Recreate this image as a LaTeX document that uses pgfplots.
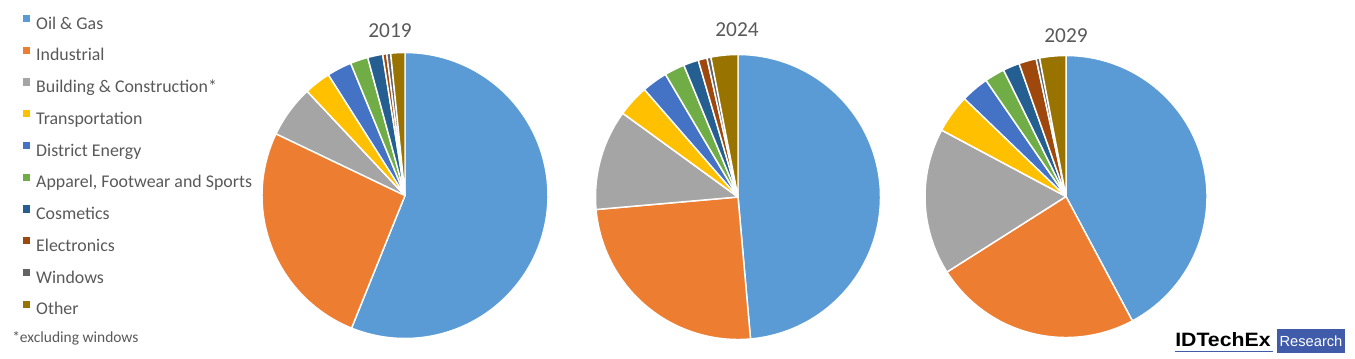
\documentclass[border=0pt]{standalone}
\usepackage{pgfplots}
\pgfplotsset{compat=1.18}
\usepackage{pgfplotstable}
\usepackage{fontspec}
\setmainfont{Carlito}
\newfontfamily\arialfont{Liberation Sans}

\definecolor{slice0}{HTML}{5B9BD5}
\definecolor{slice1}{HTML}{ED7D31}
\definecolor{slice2}{HTML}{A5A5A5}
\definecolor{slice3}{HTML}{FFC000}
\definecolor{slice4}{HTML}{4472C4}
\definecolor{slice5}{HTML}{70AD47}
\definecolor{slice6}{HTML}{255E91}
\definecolor{slice7}{HTML}{9E480E}
\definecolor{slice8}{HTML}{636363}
\definecolor{slice9}{HTML}{997300}
\definecolor{txtgray}{HTML}{595959}
\definecolor{logoblue}{HTML}{3F5BA9}

% market share (%) by sector
\pgfplotstableread{
sector   p2019 p2024 p2029
OilGas   56.1  48.6  42.2
Indust   26.0  25.0  23.8
Build     5.9  11.4  16.8
Transp    3.0   3.6   4.4
District  2.8   2.9   3.2
Apparel   2.0   2.3   2.3
Cosmet    1.7   1.7   1.9
Electr    0.45  1.0   2.0
Windows   0.45  0.45  0.4
Other     1.6   3.05  3.0
}\sharedata

\newcommand\drawpie[4]{% column, cx, cy, r
  \def\cum{0}%
  \pgfplotsforeachungrouped \i in {0,...,9}{%
    \pgfplotstablegetelem{\i}{#1}\of\sharedata
    \pgfmathsetmacro\startang{\cum*3.6}%
    \pgfmathsetmacro\newcum{\cum+\pgfplotsretval}%
    \pgfmathsetmacro\endang{\newcum*3.6}%
    \let\cum\newcum
    \edef\temp{\noexpand\addplot[forget plot, fill=slice\i, draw=white, line width=1.1pt, line join=round, domain=\startang:\endang, samples=90] ({#2+#4*sin(x)},{#3+#4*cos(x)}) -- (axis cs:#2,#3) -- cycle;}%
    \temp
  }%
}

\begin{document}
\begin{tikzpicture}
\useasboundingbox (0,0) rectangle (1016.25pt,268.5pt);
\begin{axis}[
  at={(0pt,0pt)}, anchor=south west,
  scale only axis, width=1016.25pt, height=268.5pt,
  xmin=0, xmax=1355, ymin=0, ymax=358,
  hide axis, clip=false,
  legend cell align=left,
  legend image code/.code={\fill[#1] (0pt,1.8pt) rectangle (5.4pt,7.2pt);},
  legend style={
    at={(axis description cs:0.01697,0.9583)}, anchor=north west,
    draw=none, fill=none, inner sep=0pt, outer sep=0pt,
    font=\fontsize{13.4}{16}\selectfont, text=txtgray,
    row sep=10.1pt,
    nodes={text height=10pt, text depth=3pt, inner sep=0pt},
    /tikz/every odd column/.append style={column sep=4.5pt},
  },
]
\drawpie{p2019}{405}{162.5}{143}
\drawpie{p2024}{738}{161}{142.5}
\drawpie{p2029}{1066}{161.5}{141}

\node[font=\fontsize{16}{19}\selectfont, text=txtgray] at (axis cs:390,327) {2019};
\node[font=\fontsize{16}{19}\selectfont, text=txtgray] at (axis cs:737,328) {2024};
\node[font=\fontsize{16}{19}\selectfont, text=txtgray] at (axis cs:1066,322) {2029};

\addlegendimage{fill=slice0, draw=none}\addlegendentry{Oil \& Gas}
\addlegendimage{fill=slice1, draw=none}\addlegendentry{Industrial}
\addlegendimage{fill=slice2, draw=none}\addlegendentry{Building \& Construction*}
\addlegendimage{fill=slice3, draw=none}\addlegendentry{Transportation}
\addlegendimage{fill=slice4, draw=none}\addlegendentry{District Energy}
\addlegendimage{fill=slice5, draw=none}\addlegendentry{Apparel, Footwear and Sports}
\addlegendimage{fill=slice6, draw=none}\addlegendentry{Cosmetics}
\addlegendimage{fill=slice7, draw=none}\addlegendentry{Electronics}
\addlegendimage{fill=slice8, draw=none}\addlegendentry{Windows}
\addlegendimage{fill=slice9, draw=none}\addlegendentry{Other}

\node[anchor=base west, inner sep=0pt, font=\fontsize{11.6}{14}\selectfont, text=txtgray] at (axis cs:12,16) {*excluding windows};

% logo
\node[anchor=base west, inner sep=0pt, font=\arialfont\bfseries\fontsize{14.5}{16}\selectfont, xscale=1.1] at (axis cs:1175,12) {IDTechEx};
\fill[logoblue] (axis cs:1175,6) rectangle (axis cs:1273,7.5);
\fill[logoblue] (axis cs:1277,4.7) rectangle (axis cs:1345,28.7);
\node[anchor=base, inner sep=0pt, text=white, font=\arialfont\fontsize{11}{13}\selectfont] at (axis cs:1311,11.5) {Research};
\end{axis}
\end{tikzpicture}
\end{document}
